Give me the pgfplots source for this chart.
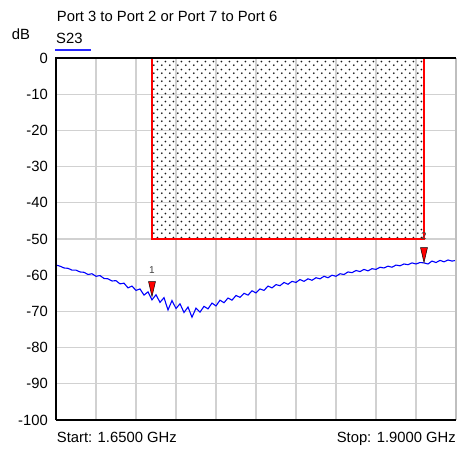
\documentclass[border=0pt]{standalone}
\usepackage{pgfplots}
\pgfplotsset{compat=1.18}
\usepackage{fontspec}
\setmainfont{Liberation Sans}
\usetikzlibrary{patterns}
\pgfdeclarepatternformonly{maskdots}{\pgfqpoint{0pt}{0pt}}{\pgfqpoint{7.6pt}{7.6pt}}{\pgfqpoint{7.6pt}{7.6pt}}{%
 \pgfpathcircle{\pgfqpoint{1.9pt}{1.9pt}}{1.0pt}%
 \pgfpathcircle{\pgfqpoint{5.7pt}{5.7pt}}{1.0pt}%
 \pgfusepath{fill}}
\pgfdeclareplotmark{mkdown}{%
 \pgfpathmoveto{\pgfqpoint{0pt}{0pt}}%
 \pgfpathlineto{\pgfqpoint{-3.5pt}{15pt}}%
 \pgfpathlineto{\pgfqpoint{3.5pt}{15pt}}%
 \pgfpathclose
 \pgfusepathqfillstroke}
\begin{document}
\begin{tikzpicture}[x=1pt,y=1pt,font=\fontsize{14.8}{17}\selectfont]
\path[use as bounding box] (0,0) rectangle (457,448);
\begin{axis}[at={(56pt,28pt)}, anchor=south west, scale only axis,
 width=400pt, height=362pt,
 xmin=1.65, xmax=1.9, ymin=-100, ymax=0,
 xtick={1.675,1.7,1.725,1.75,1.775,1.8,1.825,1.85,1.875}, xticklabels={},
 ytick={-100,-90,-80,-70,-60,-50,-40,-30,-20,-10,0},
 yticklabels={-100,-90,-80,-70,-60,-50,-40,-30,-20,-10,0},
 yticklabel style={inner sep=0pt, xshift=-8pt},
 major tick length=0pt,
 grid=major, major grid style={draw=black!18, line width=1.3pt},
 axis line style={draw=none},
 clip=false,
]
\addplot[draw=none, pattern=maskdots, pattern color=black!90] coordinates {(1.71,0) (1.71,-50) (1.88,-50) (1.88,0)} --cycle;
\addplot[red, line width=2pt] coordinates {(1.71,0) (1.71,-50) (1.88,-50) (1.88,0)};
\addplot[blue, line width=1.1pt] coordinates {
(1.6500,-57.2) (1.6525,-57.5) (1.6550,-58.0) (1.6575,-58.1) (1.6600,-58.6)
(1.6625,-58.6) (1.6650,-59.1) (1.6675,-59.2) (1.6700,-59.8) (1.6725,-59.6)
(1.6750,-60.3) (1.6775,-60.1) (1.6800,-60.9) (1.6825,-61.0) (1.6850,-61.6)
(1.6875,-61.5) (1.6900,-62.4) (1.6925,-62.2) (1.6950,-63.5) (1.6975,-63.0)
(1.7000,-64.2) (1.7025,-63.8) (1.7050,-65.5) (1.7075,-64.6) (1.7100,-66.8)
(1.7125,-65.4) (1.7150,-67.5) (1.7175,-66.2) (1.7200,-69.6) (1.7225,-67.0)
(1.7250,-69.2) (1.7275,-67.9) (1.7300,-70.3) (1.7325,-68.8) (1.7350,-71.6)
(1.7375,-69.1) (1.7400,-70.2) (1.7425,-68.6) (1.7450,-69.3) (1.7475,-67.7)
(1.7500,-68.5) (1.7525,-66.9) (1.7550,-67.6) (1.7575,-66.3) (1.7600,-66.9)
(1.7625,-65.6) (1.7650,-66.1) (1.7675,-65.0) (1.7700,-65.5) (1.7725,-64.3)
(1.7750,-64.9) (1.7775,-63.8) (1.7800,-64.2) (1.7825,-63.0) (1.7850,-63.5)
(1.7875,-62.6) (1.7900,-62.9) (1.7925,-62.0) (1.7950,-62.5) (1.7975,-61.7)
(1.8000,-62.0) (1.8025,-61.2) (1.8050,-61.7) (1.8075,-61.0) (1.8100,-61.4)
(1.8125,-60.7) (1.8150,-61.0) (1.8175,-60.3) (1.8200,-60.7) (1.8225,-60.0)
(1.8250,-60.3) (1.8275,-59.6) (1.8300,-59.8) (1.8325,-59.1) (1.8350,-59.3)
(1.8375,-58.7) (1.8400,-59.0) (1.8425,-58.4) (1.8450,-58.8) (1.8475,-58.2)
(1.8500,-58.4) (1.8525,-57.8) (1.8550,-58.0) (1.8575,-57.5) (1.8600,-57.8)
(1.8625,-57.2) (1.8650,-57.4) (1.8675,-56.9) (1.8700,-57.1) (1.8725,-56.6)
(1.8750,-56.9) (1.8775,-56.5) (1.8800,-56.6) (1.8825,-56.9) (1.8850,-56.1)
(1.8875,-56.5) (1.8900,-55.9) (1.8925,-56.3) (1.8950,-55.8) (1.8975,-56.1)
(1.9000,-55.9)
};
\addplot[only marks, mark=mkdown, mark options={fill=red, draw=black, line width=0.5pt},
 nodes near coords, point meta=explicit symbolic,
 every node near coord/.style={anchor=center, yshift=27pt, font=\fontsize{10}{12}\selectfont, text=black!75}]
 coordinates {(1.71,-65.9)[1] (1.88,-56.5)[2]};
\end{axis}
\draw[black!25, line width=1.3pt] (456,28) -- (456,390);
\draw[black, line width=1.3pt] (56,28) -- (56,390) -- (456,390);
\draw[black, line width=1.3pt] (56,28) -- (456,28);
\node[anchor=base west, inner sep=0pt] at (56.7,426.3) {Port 3 to Port 2 or Port 7 to Port 6};
\node[anchor=base west, inner sep=0pt] at (56,404.7) {S23};
\draw[blue!85, line width=1.3pt] (55,398) -- (91,398);
\node[anchor=base west, inner sep=0pt] at (11.7,408.7) {dB};
\node[anchor=base west, inner sep=0pt] at (56.7,5.5) {Start: 1.6500 GHz};
\node[anchor=base east, inner sep=0pt] at (456,5.5) {Stop: 1.9000 GHz};
\end{tikzpicture}
\end{document}
